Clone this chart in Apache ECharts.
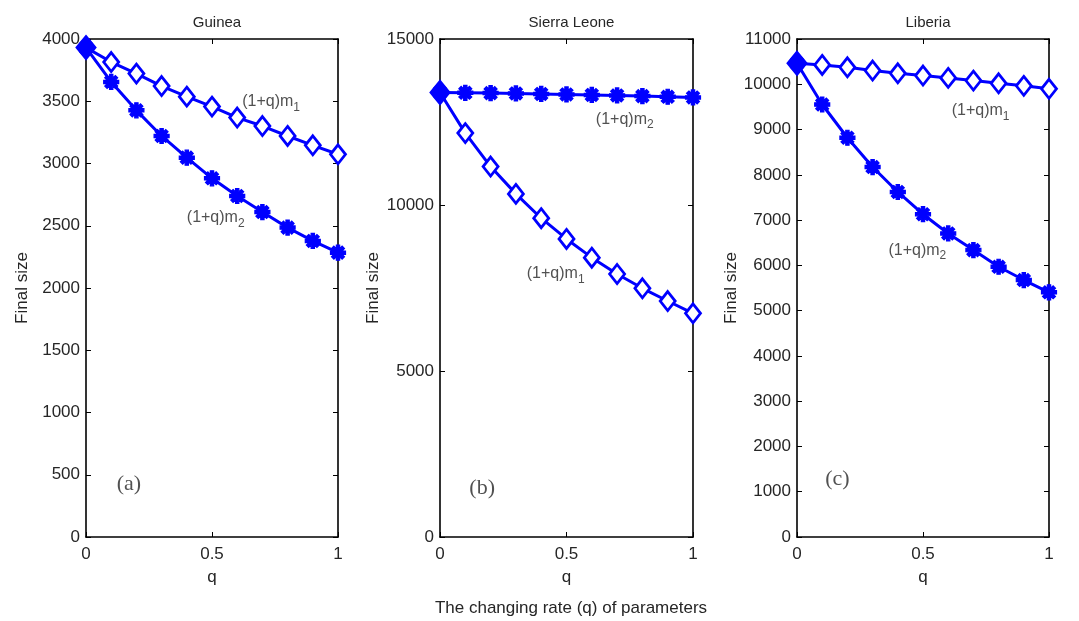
<!DOCTYPE html>
<html>
<head>
<meta charset="utf-8">
<script src="https://cdn.jsdelivr.net/npm/echarts@6/dist/echarts.min.js"></script>
<style>
  html, body { margin: 0; padding: 0; background: #fff; }
  #chart { width: 1079px; height: 621px; }
</style>
</head>
<body>
<div id="chart"></div>
<script>
// Changing rate q of the parameters
const qValues = [0, 0.1, 0.2, 0.3, 0.4, 0.5, 0.6, 0.7, 0.8, 0.9, 1.0];

// Final epidemic size under (1+q)m1 and (1+q)m2
const guineaM1 = [3931, 3815, 3722, 3622, 3537, 3457, 3369, 3301, 3221, 3146, 3074];
const guineaM2 = [3931, 3655, 3427, 3221, 3047, 2881, 2739, 2610, 2485, 2378, 2284];
const sierraM1 = [13390, 12165, 11158, 10335, 9602, 8978, 8414, 7922, 7491, 7108, 6737];
const sierraM2 = [13390, 13380, 13370, 13360, 13345, 13330, 13315, 13300, 13280, 13260, 13240];
const liberiaM1 = [10463, 10427, 10374, 10302, 10242, 10192, 10141, 10081, 10022, 9965, 9899];
const liberiaM2 = [10463, 9553, 8819, 8172, 7621, 7130, 6705, 6337, 5969, 5676, 5405];

const countries = ['Guinea', 'Sierra Leone', 'Liberia'];
const panelTags = ['(a)', '(b)', '(c)'];
const xTickLabels = { 0: '0', 0.5: '0.5', 1: '1' };

// y-axis ranges per panel
const yMax = [4000, 15000, 11000];
const yStep = [500, 5000, 1000];

// label anchors in data units: [q, size]
const m1Anchor = [[0.62, 3494], [0.343, 7922], [0.614, 9421]];
const m2Anchor = [[0.40, 2568], [0.616, 12587], [0.363, 6337]];
const tagAnchor = [[0.122, 423], [0.116, 1478], [0.112, 1271]];

const m1Data = [guineaM1, sierraM1, liberiaM1];
const m2Data = [guineaM2, sierraM2, liberiaM2];

const BLUE = '#0000ff';
const INK = '#262626';
const FONT = "'Liberation Sans', Arial, Helvetica, sans-serif";
const SERIF = "'Liberation Serif', 'Times New Roman', serif";

// eight-armed star drawn as four overlapping bars
const ASTERISK = 'path://M-10 -2.2 L10 -2.2 L10 2.2 L-10 2.2 Z ' +
  'M-2.2 -10 L2.2 -10 L2.2 10 L-2.2 10 Z ' +
  'M-5.5 -8.6 L8.6 5.5 L5.5 8.6 L-8.6 -5.5 Z ' +
  'M-8.6 5.5 L5.5 -8.6 L8.6 -5.5 L-5.5 8.6 Z';

const grids = [
  { left: 86, top: 39, width: 252, height: 498 },
  { left: 440, top: 39, width: 253, height: 498 },
  { left: 797, top: 39, width: 252, height: 498 }
];
const nameGaps = [55, 58, 55];

const xAxes = [], yAxes = [], series = [], titles = [];

const richLabel = (sub) => ({
  formatter: '{a|(1+q)m}{s|' + sub + '}',
  rich: {
    a: { fontFamily: FONT, fontSize: 16, color: INK, lineHeight: 20, verticalAlign: 'middle' },
    s: { fontFamily: FONT, fontSize: 12, color: INK, lineHeight: 20, padding: [12, 0, 0, 0], verticalAlign: 'middle' }
  }
});

grids.forEach((g, i) => {
  const frame = { show: true, onZero: false, lineStyle: { color: '#000', width: 1.6 } };
  const tick = { show: true, inside: true, length: 5, lineStyle: { color: '#000', width: 1 } };
  xAxes.push({
    gridIndex: i, type: 'value', min: 0, max: 1, interval: 0.5, position: 'bottom',
    axisLine: frame, axisTick: tick, splitLine: { show: false },
    axisLabel: { color: INK, fontFamily: FONT, fontSize: 17, margin: 9,
      formatter: (v) => xTickLabels[v] !== undefined ? xTickLabels[v] : '' },
    name: 'q', nameLocation: 'middle', nameGap: 32,
    nameTextStyle: { color: INK, fontFamily: FONT, fontSize: 17 }
  });
  xAxes.push({
    gridIndex: i, type: 'value', min: 0, max: 1, interval: 0.5, position: 'top',
    axisLine: frame, axisTick: tick, axisLabel: { show: false }, splitLine: { show: false }
  });
  yAxes.push({
    gridIndex: i, type: 'value', min: 0, max: yMax[i], interval: yStep[i], position: 'left',
    axisLine: frame, axisTick: tick, splitLine: { show: false },
    axisLabel: { color: INK, fontFamily: FONT, fontSize: 17, margin: 6, formatter: (v) => String(v) },
    name: 'Final size', nameLocation: 'middle', nameGap: nameGaps[i], nameRotate: 90,
    nameTextStyle: { color: INK, fontFamily: FONT, fontSize: 17 }
  });
  yAxes.push({
    gridIndex: i, type: 'value', min: 0, max: yMax[i], interval: yStep[i], position: 'right',
    axisLine: frame, axisTick: tick, axisLabel: { show: false }, splitLine: { show: false }
  });

  const xb = 2 * i, yl = 2 * i;

  // (1+q)m2 : asterisk markers
  series.push({
    type: 'line', name: '(1+q)m2', xAxisIndex: xb, yAxisIndex: yl,
    data: qValues.map((q, k) => [q, m2Data[i][k]]),
    symbol: ASTERISK, symbolSize: 15,
    itemStyle: { color: BLUE, borderColor: BLUE, borderWidth: 1.2 },
    lineStyle: { color: BLUE, width: 3 },
    z: 3, animation: false
  });
  // (1+q)m1 : open diamonds, first point shared with m2 shown filled
  series.push({
    type: 'line', name: '(1+q)m1', xAxisIndex: xb, yAxisIndex: yl,
    data: qValues.map((q, k) => k === 0
      ? { value: [q, m1Data[i][k]], itemStyle: { color: BLUE }, symbolSize: [18, 22] }
      : [q, m1Data[i][k]]),
    symbol: 'diamond', symbolSize: [15, 19], showAllSymbol: true,
    itemStyle: { color: '#fff', borderColor: BLUE, borderWidth: 2.8 },
    lineStyle: { color: BLUE, width: 3 },
    z: 4, animation: false
  });
  // curve labels and panel tag
  series.push({
    type: 'scatter', xAxisIndex: xb, yAxisIndex: yl, silent: true, animation: false,
    symbolSize: 0, z: 5,
    data: [
      { value: m1Anchor[i], label: Object.assign({ show: true, position: 'right', distance: 0 }, richLabel('1')) },
      { value: m2Anchor[i], label: Object.assign({ show: true, position: 'right', distance: 0 }, richLabel('2')) },
      { value: tagAnchor[i], label: { show: true, position: 'right', distance: 0, formatter: panelTags[i],
          fontFamily: SERIF, fontSize: 22, color: INK } }
    ]
  });

  titles.push({
    text: countries[i], left: g.left + g.width / 2, top: 10, textAlign: 'center',
    textStyle: { color: INK, fontFamily: FONT, fontSize: 15, fontWeight: 'normal' }
  });
});

titles.push({
  text: 'The changing rate (q) of parameters', left: 566, top: 595, textAlign: 'center',
  textStyle: { color: INK, fontFamily: FONT, fontSize: 17, fontWeight: 'normal' }
});

const chart = echarts.init(document.getElementById('chart'), null, { renderer: 'canvas' });
chart.setOption({
  backgroundColor: '#fff',
  animation: false,
  title: titles,
  grid: grids,
  xAxis: xAxes,
  yAxis: yAxes,
  series: series
});
</script>
</body>
</html>
